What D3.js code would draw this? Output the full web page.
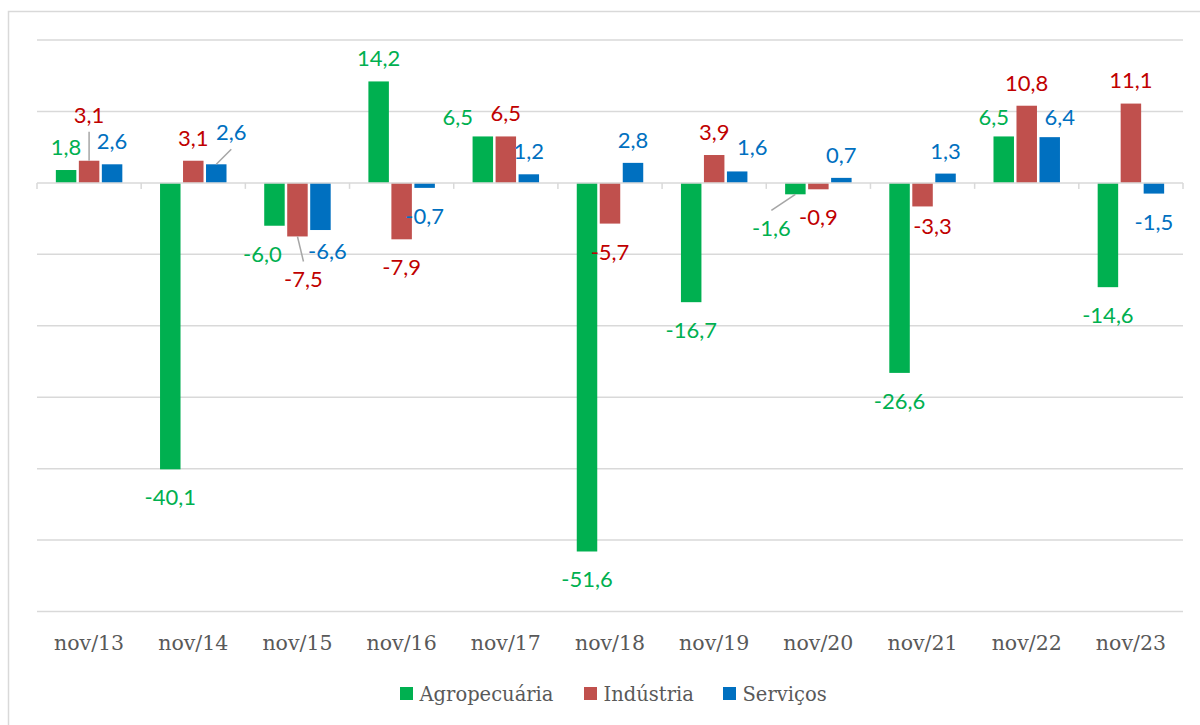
<!DOCTYPE html>
<html>
<head>
<meta charset="utf-8">
<script src="https://cdn.jsdelivr.net/npm/d3@7"></script>
<style>
  body { margin: 0; background: #fff; }
  svg { display: block; }
</style>
</head>
<body>
<div id="graph"></div>
<script>
// categories and series
var categories = ["nov/13","nov/14","nov/15","nov/16","nov/17","nov/18","nov/19","nov/20","nov/21","nov/22","nov/23"];
var seriesNames = ["Agropecuária","Indústria","Serviços"];
var agropecuaria = [1.8,-40.1,-6.0,14.2,6.5,-51.6,-16.7,-1.6,-26.6,6.5,-14.6];
var industria    = [3.1,3.1,-7.5,-7.9,6.5,-5.7,3.9,-0.9,-3.3,10.8,11.1];
var servicos     = [2.6,2.6,-6.6,-0.7,1.2,2.8,1.6,0.7,1.3,6.4,-1.5];
var yTicks = [-60,-50,-40,-30,-20,-10,0,10,20];

var barColors   = ["#00B050","#C0504D","#0070C0"];
var labelColors = ["#00B050","#C00000","#0070C0"];

// labels that were dragged by hand in the original (dx, dy from default spot)
var nudge = {
  "nov/13|1":[0,-23], "nov/14|2":[15,-9], "nov/15|0":[-12,0], "nov/15|1":[6,15],
  "nov/15|2":[7,-7], "nov/17|0":[-25,4], "nov/19|2":[15,-1], "nov/20|0":[-24,6],
  "nov/21|1":[10,-8], "nov/22|0":[-10,4], "nov/22|2":[10,3]
};
var leaders = ["nov/13|1","nov/14|2","nov/15|1","nov/20|0"];

var W = 1200, H = 725;
var plot = {left:37, right:1183, top:40, bottom:611.5};

var allSeries = [agropecuaria, industria, servicos];
var rows = [];
categories.forEach(function(c, i) {
  allSeries.forEach(function(s, k) {
    rows.push({cat:c, k:k, v:s[i]});
  });
});

var x0 = d3.scaleBand().domain(categories).range([plot.left, plot.right]);
var x1 = d3.scaleBand().domain(d3.range(3)).range([0, x0.bandwidth()])
    .paddingInner(0.109).paddingOuter(0.82);
var y = d3.scaleLinear().domain([-60,20]).range([plot.bottom, plot.top]);

var svg = d3.select("#graph").append("svg")
    .attr("width", W).attr("height", H);

svg.append("rect")
    .attr("x", 8.5).attr("y", 11.5).attr("width", W).attr("height", H)
    .attr("fill", "none").attr("stroke", "#D9D9D9").attr("stroke-width", 1.5);

// gridlines
svg.append("g").selectAll("line").data(yTicks.filter(function(t){ return t !== 0; }))
  .enter().append("line")
    .attr("x1", plot.left).attr("x2", plot.right)
    .attr("y1", function(d){ return y(d); }).attr("y2", function(d){ return y(d); })
    .attr("stroke", "#D9D9D9").attr("stroke-width", 1.5);

// bars
svg.append("g").selectAll("rect").data(rows).enter().append("rect")
    .attr("x", function(d){ return x0(d.cat) + x1(d.k); })
    .attr("width", x1.bandwidth())
    .attr("y", function(d){ return y(Math.max(0, d.v)); })
    .attr("height", function(d){ return Math.abs(y(d.v) - y(0)); })
    .attr("fill", function(d){ return barColors[d.k]; });

// zero axis with category ticks
var xAxis = svg.append("g")
    .attr("transform", "translate(0," + y(0) + ")")
    .call(d3.axisBottom(x0).tickSize(0).tickFormat(""));
xAxis.select(".domain").attr("stroke", "#D9D9D9").attr("stroke-width", 1.5)
    .attr("d", "M" + plot.left + ",0H" + plot.right);
xAxis.selectAll(".tick").remove();
xAxis.selectAll("line.bound").data(d3.range(categories.length + 1)).enter().append("line")
    .attr("class", "bound")
    .attr("x1", function(i){ return plot.left + i * x0.step(); })
    .attr("x2", function(i){ return plot.left + i * x0.step(); })
    .attr("y1", 0).attr("y2", 6)
    .attr("stroke", "#D9D9D9").attr("stroke-width", 1.5);

// category labels
svg.append("g").selectAll("text").data(categories).enter().append("text")
    .attr("x", function(d){ return x0(d) + x0.bandwidth() / 2; })
    .attr("y", 650)
    .attr("text-anchor", "middle")
    .attr("font-family", "'DejaVu Serif', serif")
    .attr("font-size", 20.5)
    .attr("fill", "#595959")
    .text(function(d){ return d; });

// data labels
function labelPos(d) {
  var cx = x0(d.cat) + x1(d.k) + x1.bandwidth() / 2;
  var cy = d.v >= 0 ? y(d.v) - 23 : y(d.v) + 28;
  var n = nudge[d.cat + "|" + d.k] || [0,0];
  return [cx + n[0], cy + n[1], cx];
}
var fmt = function(v){ return d3.format(".1f")(v).replace(".", ",").replace("−", "-"); };

svg.append("g").selectAll("line").data(rows.filter(function(d){
    return leaders.indexOf(d.cat + "|" + d.k) >= 0; }))
  .enter().append("line")
    .attr("x1", function(d){ return labelPos(d)[2]; })
    .attr("y1", function(d){ return y(d.v); })
    .attr("x2", function(d){ return labelPos(d)[0]; })
    .attr("y2", function(d){ return labelPos(d)[1] + (d.v >= 0 ? 17 : -18); })
    .attr("stroke", "#A6A6A6").attr("stroke-width", 1.5);

svg.append("g").selectAll("text").data(rows).enter().append("text")
    .attr("x", function(d){ return labelPos(d)[0]; })
    .attr("y", function(d){ return labelPos(d)[1]; })
    .attr("dy", "0.36em")
    .attr("text-anchor", "middle")
    .attr("font-family", "Lato, sans-serif")
    .attr("font-size", 22)
    .attr("fill", function(d){ return labelColors[d.k]; })
    .text(function(d){ return fmt(d.v); });

// legend
var legendX = [400, 584, 723];
var lg = svg.append("g").selectAll("g").data(seriesNames).enter().append("g")
    .attr("transform", function(d, i){ return "translate(" + legendX[i] + ",687)"; });
lg.append("rect").attr("width", 13).attr("height", 13)
    .attr("fill", function(d, i){ return barColors[i]; });
lg.append("text").attr("x", 19.5).attr("y", 13.5)
    .attr("font-family", "'DejaVu Serif', serif")
    .attr("font-size", 19.5)
    .attr("fill", "#595959")
    .text(function(d){ return d; });
</script>
</body>
</html>
